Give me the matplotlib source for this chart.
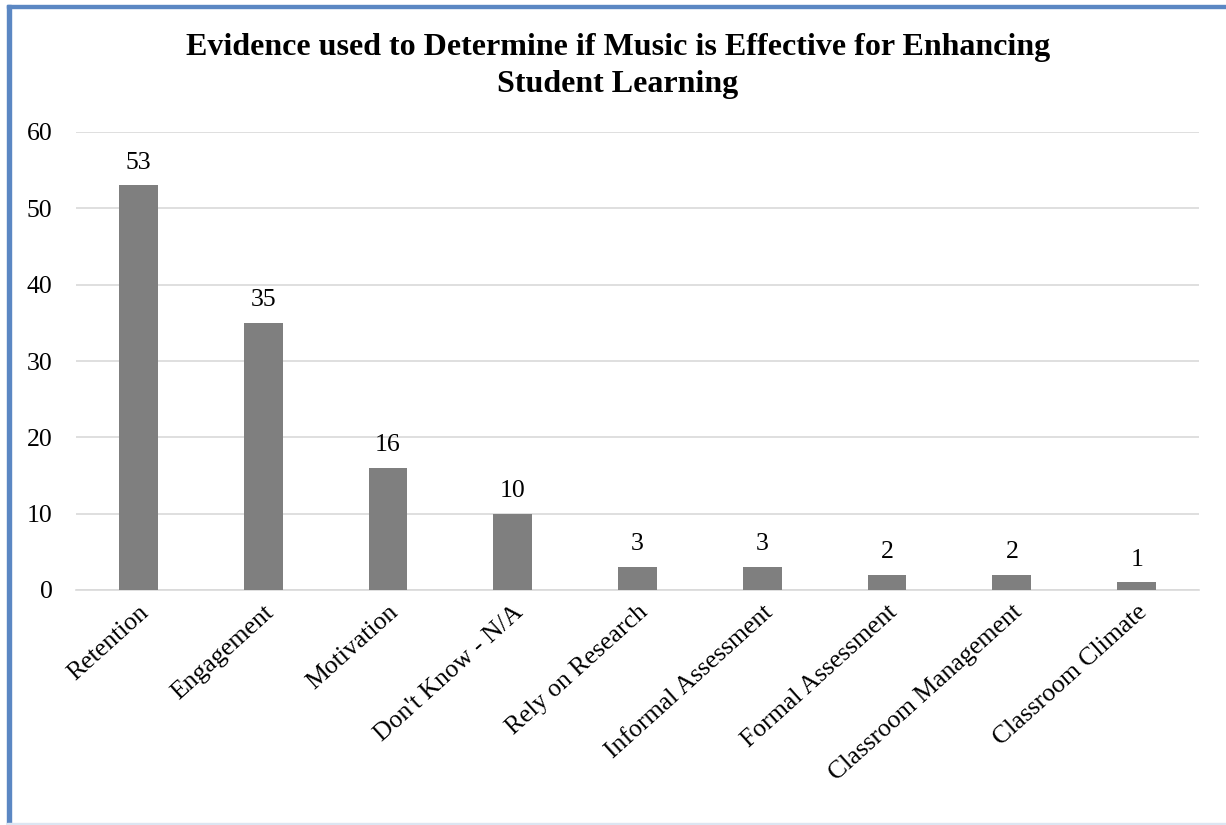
import matplotlib
matplotlib.use("Agg")
import matplotlib.pyplot as plt
from matplotlib.patches import Rectangle

categories = ["Retention", "Engagement", "Motivation", "Don't Know - N/A",
              "Rely on Research", "Informal Assessment", "Formal Assessment",
              "Classroom Management", "Classroom Climate"]
counts = [53, 35, 16, 10, 3, 3, 2, 2, 1]
y_ticks = [0, 10, 20, 30, 40, 50, 60]

plt.rcParams["font.family"] = ["Liberation Serif", "DejaVu Serif"]

W, H = 1226, 825
fig = plt.figure(figsize=(W / 100, H / 100), dpi=100)

# plot area in pixel coordinates
x0, x1 = 76, 1199
ytop, ybot = 132, 590
ax = fig.add_axes([x0 / W, 1 - ybot / H, (x1 - x0) / W, (ybot - ytop) / H])

pos = range(len(categories))
ax.bar(pos, counts, width=0.31, color="#7f7f7f", zorder=3)
for x, v in zip(pos, counts):
    ax.annotate(str(v), (x, v), xytext=(0, 12), textcoords="offset points",
                ha="center", va="baseline", fontsize=18.5, color="#000000")

ax.set_xlim(-0.5, len(categories) - 0.5)
ax.set_ylim(0, 60)
ax.set_yticks(y_ticks)
ax.set_yticklabels([str(t) for t in y_ticks], fontsize=18.5)
ax.set_xticks(list(pos))
ax.set_xticklabels(categories, rotation=42, ha="right", rotation_mode="anchor",
                   fontsize=18.5)
ax.tick_params(axis="both", length=0)
ax.tick_params(axis="y", pad=17)
ax.tick_params(axis="x", pad=8)
ax.grid(axis="y", color="#d9d9d9", linewidth=1.2, zorder=0)
for s in ["top", "right", "left"]:
    ax.spines[s].set_visible(False)
ax.spines["bottom"].set_color("#d9d9d9")
ax.spines["bottom"].set_linewidth(1.2)

title_lines = ["Evidence used to Determine if Music is Effective for Enhancing",
               "Student Learning"]
for line, base in zip(title_lines, [55, 92]):
    fig.text(618 / W, 1 - base / H, line, ha="center", va="baseline",
             fontsize=23, fontweight="bold")

# frame around the chart
fig.patches.append(Rectangle((7 / W, 0), 4 / W, 1 - 5 / H, transform=fig.transFigure,
                             color="#5b87c3", zorder=5))
fig.patches.append(Rectangle((7 / W, 1 - 8 / H), 1 - 7 / W, 3 / H, transform=fig.transFigure,
                             color="#5b87c3", zorder=5))
fig.patches.append(Rectangle((7 / W, 0.5 / H), 1 - 7 / W, 1.5 / H, transform=fig.transFigure,
                             color="#dce6f2", zorder=5))

fig.savefig("out.png", dpi=100)
